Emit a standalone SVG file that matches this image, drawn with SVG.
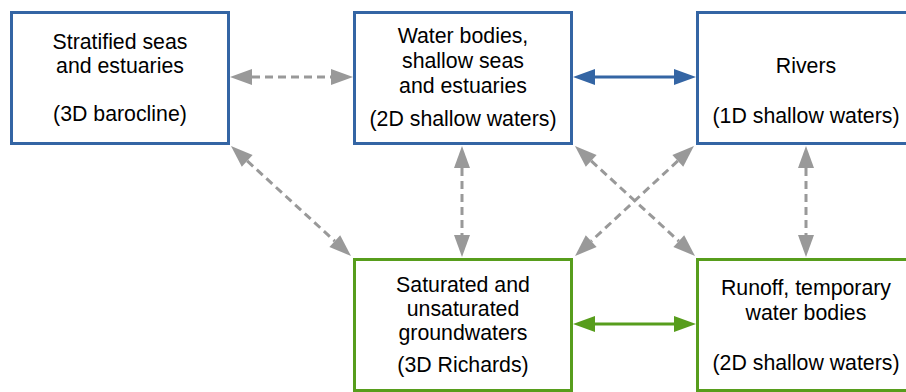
<svg xmlns="http://www.w3.org/2000/svg" width="906" height="392" viewBox="0 0 906 392">
  <style>
    .box { fill: #ffffff; stroke-width: 3; }
    .blue { stroke: #3465a4; }
    .green { stroke: #579d1c; }
    text { font-family: "Liberation Sans", Arial, sans-serif; font-size: 21.3px; fill: #000000; text-anchor: middle; }
    .link { fill: none; stroke-width: 3; }
    .dashed { stroke: #999999; stroke-dasharray: 8 5; }
    .solid-blue { stroke: #3465a4; }
    .solid-green { stroke: #579d1c; }
  </style>
  <defs>
    <marker id="head-gray" markerUnits="userSpaceOnUse" markerWidth="24" markerHeight="18" refX="0" refY="8" orient="auto-start-reverse" overflow="visible">
      <path d="M0,0 L22,8 L0,16 Z" fill="#999999"/>
    </marker>
    <marker id="head-blue" markerUnits="userSpaceOnUse" markerWidth="24" markerHeight="18" refX="0" refY="8" orient="auto-start-reverse" overflow="visible">
      <path d="M0,0 L22,8 L0,16 Z" fill="#3465a4"/>
    </marker>
    <marker id="head-green" markerUnits="userSpaceOnUse" markerWidth="24" markerHeight="18" refX="0" refY="8" orient="auto-start-reverse" overflow="visible">
      <path d="M0,0 L22,8 L0,16 Z" fill="#579d1c"/>
    </marker>
  </defs>

  <g id="connectors">
    <line class="link dashed" x1="252" y1="77" x2="331" y2="77" marker-start="url(#head-gray)" marker-end="url(#head-gray)"/>
    <line class="link solid-blue" x1="595" y1="77" x2="674" y2="77" marker-start="url(#head-blue)" marker-end="url(#head-blue)"/>
    <line class="link solid-green" x1="595" y1="324" x2="674" y2="324" marker-start="url(#head-green)" marker-end="url(#head-green)"/>
    <line class="link dashed" x1="462" y1="168" x2="462" y2="235" marker-start="url(#head-gray)" marker-end="url(#head-gray)"/>
    <line class="link dashed" x1="806" y1="168" x2="806" y2="235" marker-start="url(#head-gray)" marker-end="url(#head-gray)"/>
    <line class="link dashed" x1="247.2" y1="160.9" x2="334.8" y2="241.1" marker-start="url(#head-gray)" marker-end="url(#head-gray)"/>
    <line class="link dashed" x1="591.2" y1="160.9" x2="678.8" y2="241.1" marker-start="url(#head-gray)" marker-end="url(#head-gray)"/>
    <line class="link dashed" x1="677.8" y1="160.9" x2="591.2" y2="241.1" marker-start="url(#head-gray)" marker-end="url(#head-gray)"/>
  </g>

  <g id="stratified">
    <rect class="box blue" x="11.5" y="12.5" width="217" height="131"/>
    <text x="120" y="48.5">Stratified seas</text>
    <text x="120" y="72.5">and estuaries</text>
    <text x="120" y="121">(3D barocline)</text>
  </g>

  <g id="water-bodies">
    <rect class="box blue" x="354.5" y="12.5" width="217" height="131"/>
    <text x="463" y="43">Water bodies,</text>
    <text x="463" y="68">shallow seas</text>
    <text x="463" y="93">and estuaries</text>
    <text x="463" y="126">(2D shallow waters)</text>
  </g>

  <g id="rivers">
    <rect class="box blue" x="697.5" y="12.5" width="217" height="131"/>
    <text x="806" y="73">Rivers</text>
    <text x="806" y="123">(1D shallow waters)</text>
  </g>

  <g id="groundwaters">
    <rect class="box green" x="354.5" y="259.5" width="217" height="131"/>
    <text x="463" y="292">Saturated and</text>
    <text x="463" y="316">unsaturated</text>
    <text x="463" y="340">groundwaters</text>
    <text x="463" y="372">(3D Richards)</text>
  </g>

  <g id="runoff">
    <rect class="box green" x="697.5" y="259.5" width="217" height="131"/>
    <text x="806" y="295">Runoff, temporary</text>
    <text x="806" y="320">water bodies</text>
    <text x="806" y="370">(2D shallow waters)</text>
  </g>
</svg>
